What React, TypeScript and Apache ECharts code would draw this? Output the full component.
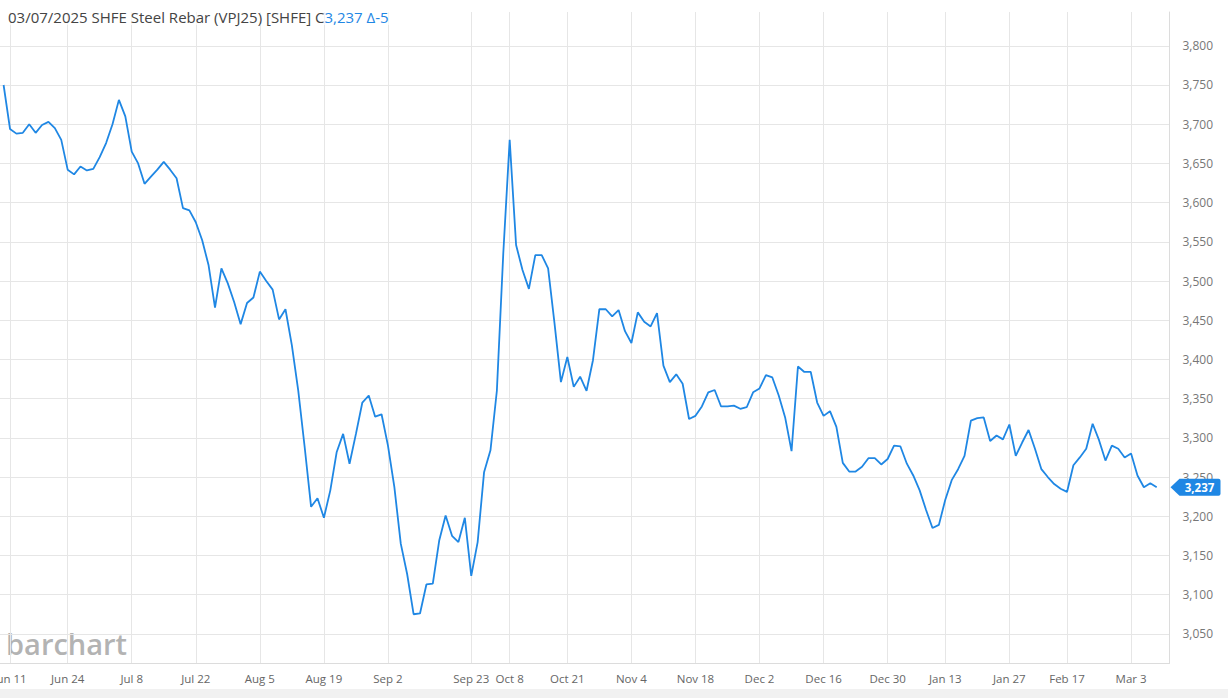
import React, { useEffect, useRef } from 'react';
import * as echarts from 'echarts';

// ---- calendar (SHFE trading days) ----
const startDate = '2024-06-07';
const tradingDayCount = 181;
const holidays = [
  '2024-06-10',
  '2024-09-16', '2024-09-17',
  '2024-10-01', '2024-10-02', '2024-10-03', '2024-10-04', '2024-10-07',
  '2025-01-01',
  '2025-01-28', '2025-01-29', '2025-01-30', '2025-01-31', '2025-02-03', '2025-02-04',
];
const leadPadCategories = ['lead-1', 'lead-2', 'lead-3'];
const padCategories = ['pad-1', 'pad-2'];

// ---- tick labels shown on the x axis ----
const tickDates = [
  '2024-06-11', '2024-06-24', '2024-07-08', '2024-07-22', '2024-08-05', '2024-08-19',
  '2024-09-02', '2024-09-23', '2024-10-08', '2024-10-21', '2024-11-04', '2024-11-18',
  '2024-12-02', '2024-12-16', '2024-12-30', '2025-01-13', '2025-01-27', '2025-02-17',
  '2025-03-03',
];
const monthNames = ['Jan', 'Feb', 'Mar', 'Apr', 'May', 'Jun', 'Jul', 'Aug', 'Sep', 'Oct', 'Nov', 'Dec'];

// ---- closing prices (one per trading day) ----
const prices = [
  3750, 3694, 3688, 3689, 3700, 3689, 3699, 3703, 3695, 3680,
  3642, 3636, 3646, 3641, 3643, 3658, 3676, 3700, 3731, 3710,
  3665, 3650, 3624, 3633, 3642, 3652, 3642, 3631, 3593, 3590,
  3575, 3552, 3520, 3466, 3516, 3497, 3473, 3445, 3472, 3479,
  3512, 3500, 3489, 3451, 3464, 3418, 3360, 3288, 3212, 3223,
  3198, 3233, 3282, 3305, 3267, 3305, 3345, 3354, 3327, 3330,
  3290, 3237, 3165, 3126, 3075, 3076, 3113, 3114, 3169, 3201,
  3175, 3167, 3198, 3124, 3167, 3256, 3284, 3360, 3535, 3680,
  3546, 3514, 3490, 3533, 3533, 3516, 3446, 3371, 3403, 3365,
  3378, 3360, 3399, 3464, 3464, 3455, 3463, 3436, 3421, 3460,
  3448, 3442, 3459, 3392, 3371, 3381, 3369, 3324, 3328, 3340,
  3358, 3361, 3340, 3340, 3341, 3337, 3339, 3358, 3363, 3380,
  3377, 3354, 3326, 3283, 3391, 3384, 3384, 3345, 3328, 3334,
  3314, 3268, 3257, 3257, 3263, 3274, 3274, 3266, 3273, 3290,
  3289, 3267, 3252, 3233, 3208, 3185, 3189, 3221, 3246, 3260,
  3277, 3322, 3325, 3326, 3296, 3303, 3298, 3317, 3277, 3294,
  3310, 3286, 3260, 3250, 3241, 3235, 3231, 3265, 3275, 3286,
  3318, 3297, 3271, 3290, 3286, 3275, 3280, 3252, 3237, 3242,
  3237,
];

// ---- y axis range / labelled ticks ----
const yMin = 3012.8;
const yMax = 3843.1;
const yStep = 50;
const yTopLabel = 3800;

const titleMain = '03/07/2025 SHFE Steel Rebar (VPJ25) [SHFE] C';
const lastChange = -5;

function buildTradingDays(): string[] {
  const out: string[] = [];
  const [y, m, d] = startDate.split('-').map(Number);
  const dt = new Date(Date.UTC(y, m - 1, d));
  const hol = new Set(holidays);
  while (out.length < tradingDayCount) {
    const iso = dt.toISOString().slice(0, 10);
    const wd = dt.getUTCDay();
    if (wd !== 0 && wd !== 6 && !hol.has(iso)) out.push(iso);
    dt.setUTCDate(dt.getUTCDate() + 1);
  }
  return out;
}

function fmtDate(iso: string): string {
  const [, m, d] = iso.split('-').map(Number);
  return `${monthNames[m - 1]} ${d}`;
}

const LINE = '#1f87e4';
const GRID = '#e6e6e6';
const FONT = 'Open Sans';
const SHIFT = 20; // canvas extends left of the viewport so the first label is cut like the original
const STEP = 6.406; // px per trading day
const FIRST_X = 3.6; // viewport x of the first trading day

export default function App() {
  const ref = useRef<HTMLDivElement>(null);

  useEffect(() => {
    document.body.style.margin = '0';
    document.body.style.overflow = 'hidden';
    if (!ref.current) return;
    const chart = echarts.init(ref.current, undefined, { renderer: 'svg' });
    const days = buildTradingDays();
    const categories = [...leadPadCategories, ...days, ...padCategories];
    const seriesData = [...leadPadCategories.map(() => null), ...prices];
    const tickSet = new Set(tickDates);
    const last = prices[prices.length - 1];
    const lastStr = last.toLocaleString('en-US');
    const showTick = (_i: number, v: string) => tickSet.has(v);

    // split line colours: min edge, 3,050 … 3,800, then the top edge hidden
    const nLines = 2 + Math.round((yTopLabel - 3050) / yStep) + 1;
    const splitColors = Array.from({ length: nLines }, (_, k) => (k === nLines - 1 ? 'rgba(0,0,0,0)' : GRID));

    const gridLeft = SHIFT + FIRST_X - leadPadCategories.length * STEP;

    chart.setOption({
      animation: false,
      backgroundColor: '#ffffff',
      textStyle: { fontFamily: FONT },
      title: {
        left: SHIFT + 4,
        top: 8,
        padding: [1, 4],
        backgroundColor: 'rgba(255,255,255,0.6)',
        text: `{a|${titleMain}}{b|${lastStr} Δ${lastChange}}`,
        textStyle: {
          fontWeight: 'normal',
          rich: {
            a: { color: '#444', fontSize: 15, fontWeight: 'normal', fontFamily: FONT },
            b: { color: LINE, fontSize: 15, fontWeight: 'normal', fontFamily: FONT },
          },
        },
      },
      grid: {
        left: gridLeft,
        right: 58.5,
        top: 12,
        bottom: 35,
        containLabel: false,
        outerBoundsMode: 'none',
      },
      xAxis: {
        type: 'category',
        data: categories,
        boundaryGap: false,
        axisLine: { show: true, lineStyle: { color: '#dcdcdc', width: 1 } },
        axisTick: { show: false },
        axisLabel: {
          interval: showTick,
          formatter: (v: string) => (tickSet.has(v) ? fmtDate(v) : ''),
          color: '#666',
          fontSize: 11.5,
          fontFamily: FONT,
          margin: 9,
        },
        splitLine: { show: true, interval: showTick, lineStyle: { color: GRID, width: 1 } },
      },
      yAxis: {
        type: 'value',
        position: 'right',
        min: yMin,
        max: yMax,
        splitNumber: 17,
        minInterval: yStep,
        maxInterval: yStep,
        axisLine: { show: true, lineStyle: { color: '#dcdcdc', width: 1 } },
        axisTick: { show: false },
        axisLabel: {
          showMinLabel: false,
          showMaxLabel: false,
          formatter: (v: number) =>
            Math.abs(v % yStep) < 1e-6 && v <= yTopLabel ? v.toLocaleString('en-US') : '',
          color: '#777',
          fontSize: 12,
          fontFamily: FONT,
          margin: 13,
        },
        splitLine: { show: true, lineStyle: { color: splitColors, width: 1 } },
      },
      series: [
        {
          type: 'line',
          data: seriesData,
          symbol: 'none',
          showSymbol: false,
          connectNulls: false,
          lineStyle: { color: LINE, width: 1.8 },
          itemStyle: { color: LINE },
          z: 3,
          markPoint: {
            silent: true,
            symbol: 'path://M0,8.5L9,0L48,0Q50,0,50,2L50,15Q50,17,48,17L9,17Z',
            symbolSize: [50, 17],
            symbolOffset: ['52%', 0],
            itemStyle: { color: LINE },
            label: {
              show: true,
              position: 'inside',
              offset: [4, 0],
              formatter: () => lastStr,
              color: '#ffffff',
              fontWeight: 'bold',
              fontSize: 11.5,
              fontFamily: FONT,
            },
            data: [{ coord: [padCategories[padCategories.length - 1], last], value: last }],
          },
        },
      ],
      graphic: [
        {
          type: 'rect',
          left: 0,
          top: 689,
          shape: { width: 1228 + SHIFT, height: 9 },
          style: { fill: '#f1f1f1' },
          silent: true,
        },
        {
          type: 'text',
          left: SHIFT + 6,
          top: 629,
          style: {
            text: 'barchart',
            fill: '#b3b3b3',
            font: `600 29px "${FONT}"`,
          },
          silent: true,
        },
      ],
    });

    return () => chart.dispose();
  }, []);

  return <div ref={ref} style={{ width: 1228 + SHIFT, height: 698, marginLeft: -SHIFT }} />;
}
